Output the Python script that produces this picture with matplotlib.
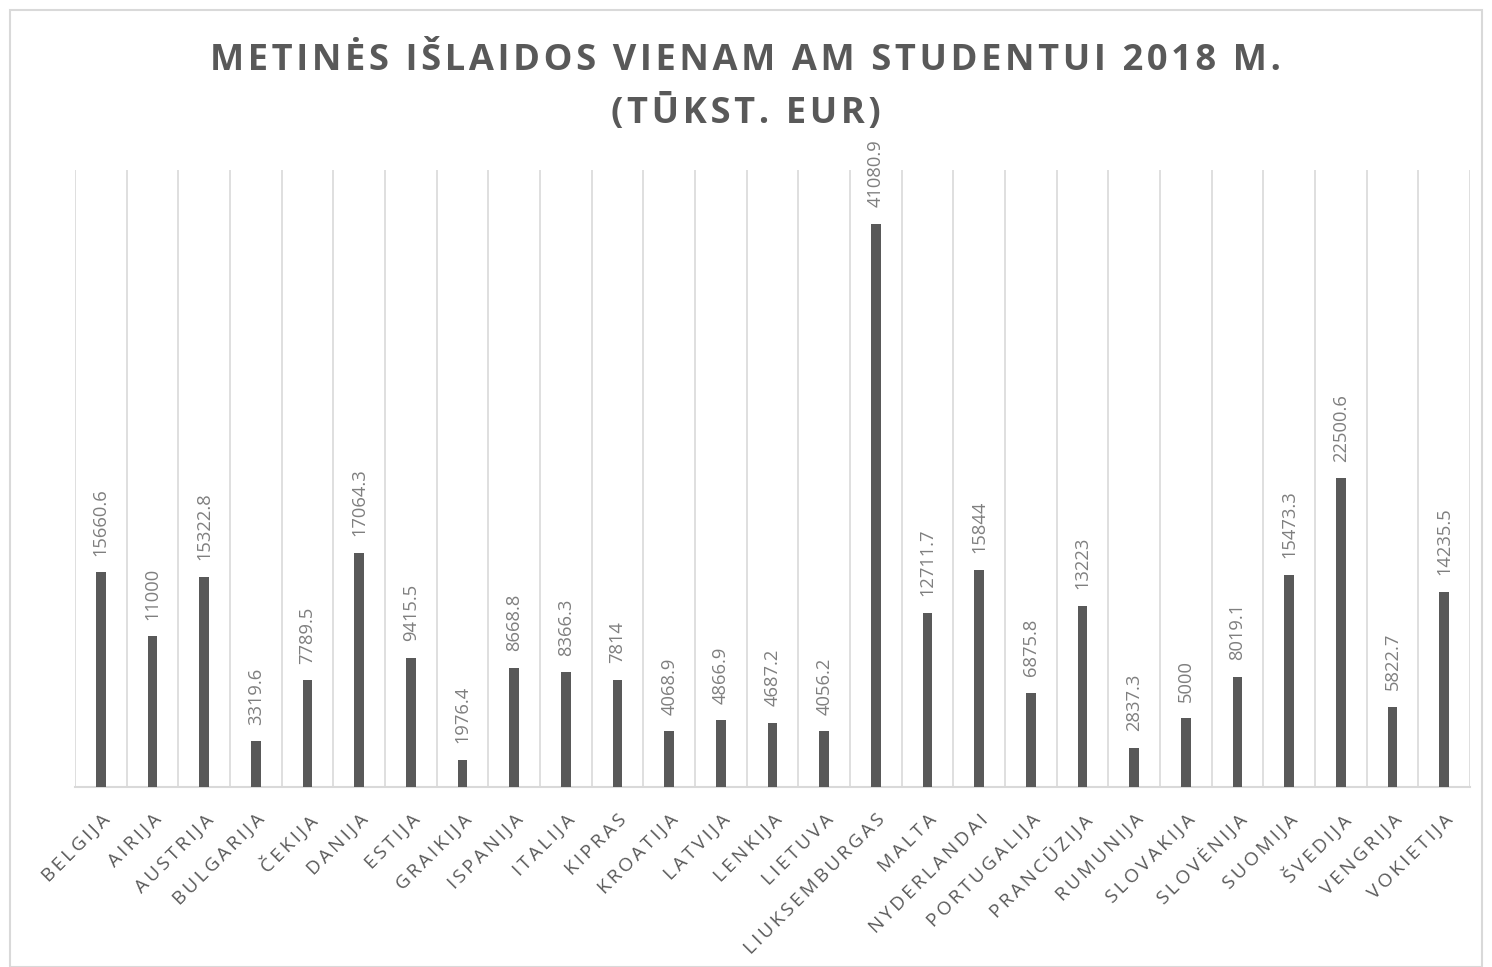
import numpy as np
import matplotlib
matplotlib.use('Agg')
from matplotlib import pyplot as plt
from matplotlib.patches import Rectangle

countries = ['BELGIJA', 'AIRIJA', 'AUSTRIJA', 'BULGARIJA', 'ČEKIJA', 'DANIJA', 'ESTIJA',
             'GRAIKIJA', 'ISPANIJA', 'ITALIJA', 'KIPRAS', 'KROATIJA', 'LATVIJA', 'LENKIJA',
             'LIETUVA', 'LIUKSEMBURGAS', 'MALTA', 'NYDERLANDAI', 'PORTUGALIJA', 'PRANCŪZIJA',
             'RUMUNIJA', 'SLOVAKIJA', 'SLOVĖNIJA', 'SUOMIJA', 'ŠVEDIJA', 'VENGRIJA', 'VOKIETIJA']
values = [15660.6, 11000, 15322.8, 3319.6, 7789.5, 17064.3, 9415.5,
          1976.4, 8668.8, 8366.3, 7814, 4068.9, 4866.9, 4687.2,
          4056.2, 41080.9, 12711.7, 15844, 6875.8, 13223,
          2837.3, 5000, 8019.1, 15473.3, 22500.6, 5822.7, 14235.5]
value_labels = ['15660.6', '11000', '15322.8', '3319.6', '7789.5', '17064.3', '9415.5',
                '1976.4', '8668.8', '8366.3', '7814', '4068.9', '4866.9', '4687.2',
                '4056.2', '41080.9', '12711.7', '15844', '6875.8', '13223',
                '2837.3', '5000', '8019.1', '15473.3', '22500.6', '5822.7', '14235.5']

title_lines = ['METINĖS IŠLAIDOS VIENAM AM STUDENTUI 2018 M.', '(TŪKST. EUR)']

plt.rcParams['font.family'] = ['Open Sans', 'DejaVu Sans']
grey = '#595959'
label_grey = '#7f7f7f'
grid_col = '#d9d9d9'

def spaced(s, sep='\u2009'):
    return sep.join(s)

fig = plt.figure(figsize=(14.92, 9.67), dpi=100)
renderer = fig.canvas.get_renderer()

def fit_size(s, target_px, **kw):
    # font size that makes the string about target_px wide
    t = fig.text(0, 0, s, fontsize=10, **kw)
    w = t.get_window_extent(renderer).width
    t.remove()
    return 10 * target_px / w

tick_texts = [spaced(c, '\u2009') for c in countries]
tick_size = fit_size(tick_texts[countries.index('LIUKSEMBURGAS')], 190)
val_size = fit_size('15660.6', 68)
title_size = fit_size(spaced(title_lines[0], '\u200a'), 1070, fontweight='bold')

fig.patches.append(Rectangle((10/1492, 0), 1 - 20/1492, 1 - 10/967, transform=fig.transFigure,
                             fill=False, edgecolor=grid_col, lw=1.5))
ax = fig.add_axes([75/1492, 180/967, 1395/1492, 617/967])

x = np.arange(len(countries))
ax.bar(x, values, width=0.19, color=grey, zorder=3)
ax.set_xlim(-0.5, len(countries) - 0.5)
ax.set_ylim(0, 45000)

for b in np.arange(-0.5, len(countries), 1.0):
    ax.axvline(b, color=grid_col, lw=1.2, zorder=1)

for xi, v, lab in zip(x, values, value_labels):
    ax.annotate(lab, (xi, v), xytext=(0, 12), textcoords='offset points', rotation=90,
                ha='center', va='bottom', fontsize=val_size, color=label_grey)

for s in ['top', 'left', 'right']:
    ax.spines[s].set_visible(False)
ax.spines['bottom'].set_color(grid_col)
ax.spines['bottom'].set_linewidth(1.5)
ax.set_yticks([])
ax.set_xticks(x)
ax.set_xticklabels(tick_texts, rotation=45, ha='right',
                   rotation_mode='anchor', fontsize=tick_size, color=grey)
ax.tick_params(axis='x', length=0, pad=17)

fig.text(0.5, 0.937, spaced(title_lines[0], '\u200a'), ha='center', va='center',
         fontsize=title_size, fontweight='bold', color=grey)
fig.text(0.5, 0.883, spaced(title_lines[1], '\u200a'), ha='center', va='center',
         fontsize=title_size, fontweight='bold', color=grey)

fig.savefig('out.png', dpi=100)
